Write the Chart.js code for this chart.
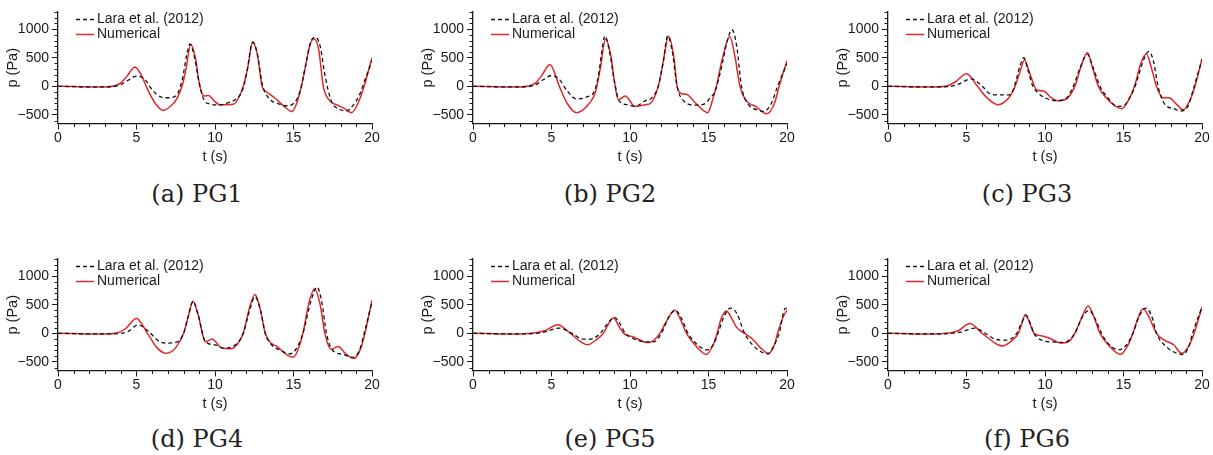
<!DOCTYPE html>
<html>
<head>
<meta charset="utf-8">
<script src="https://cdn.jsdelivr.net/npm/chart.js@4.4.1/dist/chart.umd.min.js"></script>
<style>
  body { margin: 0; background: #fff; width: 1213px; height: 455px; position: relative; overflow: hidden; }
  .panel { position: absolute; width: 385px; height: 170px; }
  .caption { position: absolute; font-family: "DejaVu Serif", serif; font-size: 24px; color: #222;
             transform: translate(-50%, -50%); white-space: nowrap; }
</style>
</head>
<body>
<div class="panel" style="left:0px;top:0px"><canvas id="pg1"></canvas></div>
<div class="panel" style="left:415px;top:0px"><canvas id="pg2"></canvas></div>
<div class="panel" style="left:830px;top:0px"><canvas id="pg3"></canvas></div>
<div class="panel" style="left:0px;top:247px"><canvas id="pg4"></canvas></div>
<div class="panel" style="left:415px;top:247px"><canvas id="pg5"></canvas></div>
<div class="panel" style="left:830px;top:247px"><canvas id="pg6"></canvas></div>

<div class="caption" style="left:197px;top:194px">(a) PG1</div>
<div class="caption" style="left:610px;top:194px">(b) PG2</div>
<div class="caption" style="left:1027px;top:194px">(c) PG3</div>
<div class="caption" style="left:197px;top:439px">(d) PG4</div>
<div class="caption" style="left:610px;top:439px">(e) PG5</div>
<div class="caption" style="left:1027px;top:439px">(f) PG6</div>

<script>
// axis ticks
const xTicks = [0, 5, 10, 15, 20];
const yTicks = [-500, 0, 500, 1000];
const seriesNames = ['Lara et al. (2012)', 'Numerical'];

// PG1
const pg1LaraT = [0, 1, 2, 3, 3.5, 4, 4.5, 5, 5.5, 6, 6.5, 7, 7.5, 7.9, 8.2, 8.4, 8.7, 9.0, 9.3, 9.7, 10.2, 10.8, 11.3, 11.7, 12.0, 12.4, 12.7, 13.0, 13.4, 14.0, 14.5, 15.0, 15.4, 15.8, 16.1, 16.4, 16.7, 17.0, 17.4, 18.0, 18.4, 18.8, 19.2, 19.6, 20];
const pg1LaraP = [0, -5, -10, -10, -5, 30, 110, 180, 130, -60, -180, -200, -170, 100, 550, 740, 500, 50, -240, -310, -330, -290, -230, -100, 200, 770, 560, 50, -200, -300, -340, -300, -100, 400, 780, 860, 700, 200, -250, -410, -430, -330, -150, 150, 450];
const pg1NumT = [0, 1, 2, 3, 3.6, 4.0, 4.4, 4.9, 5.3, 5.7, 6.2, 6.7, 7.2, 7.6, 7.9, 8.15, 8.45, 8.75, 9.0, 9.3, 9.6, 9.9, 10.3, 10.8, 11.2, 11.5, 11.8, 12.1, 12.4, 12.7, 13.0, 13.3, 13.8, 14.4, 14.9, 15.2, 15.5, 15.8, 16.0, 16.3, 16.6, 16.9, 17.3, 17.8, 18.2, 18.7, 19.1, 19.5, 20];
const pg1NumP = [0, -5, -10, -10, 10, 60, 180, 340, 200, -50, -300, -420, -340, -200, 0, 300, 730, 500, 50, -170, -160, -240, -320, -320, -310, -200, 0, 350, 780, 560, 0, -100, -200, -350, -440, -300, 0, 400, 680, 830, 650, 0, -250, -330, -380, -460, -300, 0, 500];

// PG2
const pg2LaraT = [0, 1, 2, 3, 3.5, 4, 4.5, 5, 5.5, 6, 6.6, 7.3, 7.7, 8.0, 8.2, 8.4, 8.7, 9.0, 9.3, 9.8, 10.3, 11.0, 11.4, 11.8, 12.1, 12.4, 12.7, 13.0, 13.4, 14.2, 14.8, 15.1, 15.4, 15.8, 16.2, 16.5, 16.8, 17.1, 17.5, 18.2, 18.5, 19.0, 19.4, 20];
const pg2LaraP = [0, -5, -10, -10, -5, 30, 120, 190, 120, -80, -220, -180, -100, 200, 600, 880, 600, 100, -250, -320, -350, -250, -200, 0, 400, 880, 600, 0, -250, -330, -300, -200, -100, 300, 800, 990, 700, 0, -300, -420, -440, -300, 0, 400];
const pg2NumT = [0, 1, 2, 3, 3.5, 4.0, 4.4, 4.9, 5.5, 6.0, 6.6, 7.4, 7.8, 8.1, 8.45, 8.8, 9.0, 9.25, 9.7, 10.3, 11.0, 11.3, 11.8, 12.1, 12.45, 12.8, 13.0, 13.3, 13.6, 14.2, 14.95, 15.3, 15.5, 15.9, 16.35, 16.7, 17.0, 17.4, 18.0, 18.7, 19.2, 19.5, 20];
const pg2NumP = [0, -5, -10, -10, 5, 60, 200, 380, 0, -300, -460, -300, -100, 300, 830, 500, 100, -230, -170, -350, -320, -300, 0, 400, 870, 500, 0, -130, -140, -300, -460, -200, 0, 500, 870, 500, 0, -250, -350, -480, -300, 0, 450];

// PG3
const pg3LaraT = [0, 1, 2, 3, 4, 4.5, 5.3, 6.0, 6.5, 7.0, 7.8, 8.1, 8.4, 8.65, 8.9, 9.2, 9.5, 10.0, 10.7, 11.3, 11.8, 12.2, 12.7, 13.1, 13.5, 14.0, 14.6, 15.0, 15.4, 15.8, 16.2, 16.6, 16.9, 17.2, 17.6, 18.3, 18.6, 19.1, 19.5, 20];
const pg3LaraP = [0, -5, -10, -10, 0, 40, 130, 0, -130, -150, -150, 50, 350, 500, 300, 20, -100, -200, -250, -220, 0, 300, 560, 300, 0, -200, -350, -340, -200, 50, 400, 610, 450, 0, -300, -400, -430, -350, 0, 470];
const pg3NumT = [0, 1, 2, 3, 3.8, 4.3, 5.0, 5.7, 6.3, 7.0, 7.7, 8.1, 8.4, 8.7, 9.0, 9.5, 9.9, 10.4, 10.8, 11.3, 11.9, 12.3, 12.7, 13.0, 13.4, 13.9, 14.5, 14.9, 15.3, 15.7, 16.1, 16.45, 16.8, 17.1, 17.5, 17.9, 18.4, 18.8, 19.3, 19.55, 20];
const pg3NumP = [0, -5, -10, -10, 10, 80, 220, 0, -200, -320, -200, 0, 250, 460, 250, -70, -80, -200, -250, -230, 0, 350, 590, 350, 0, -200, -350, -390, -250, 0, 400, 570, 300, 0, -200, -200, -320, -410, -200, 0, 480];

// PG4
const pg4LaraT = [0, 1, 2, 3, 4, 4.5, 5.1, 5.7, 6.5, 7.0, 7.6, 8.0, 8.3, 8.6, 8.9, 9.4, 10.0, 10.5, 11.2, 11.8, 12.2, 12.55, 12.9, 13.2, 13.6, 14.2, 14.7, 15.1, 15.6, 16.1, 16.5, 16.8, 17.1, 17.5, 18.2, 18.7, 19.2, 19.5, 20];
const pg4LaraP = [0, -5, -10, -10, 0, 40, 150, 50, -150, -170, -150, 0, 300, 560, 350, -150, -200, -260, -220, 0, 400, 640, 400, 0, -200, -300, -360, -300, 0, 550, 810, 550, 0, -300, -370, -420, -300, 0, 550];
const pg4NumT = [0, 1, 2, 3, 3.8, 4.3, 5.0, 5.7, 6.3, 6.9, 7.5, 8.0, 8.3, 8.6, 8.9, 9.4, 9.8, 10.4, 11.0, 11.4, 11.8, 12.2, 12.55, 12.9, 13.2, 13.6, 13.9, 14.6, 15.0, 15.4, 15.6, 16.0, 16.35, 16.7, 17.0, 17.4, 17.85, 18.3, 18.85, 19.3, 19.55, 20];
const pg4NumP = [0, -5, -10, -10, 10, 80, 260, 0, -250, -350, -250, 0, 300, 560, 350, -150, -100, -250, -270, -200, 0, 450, 680, 400, 0, -180, -220, -380, -420, -200, 0, 550, 780, 500, 0, -280, -230, -350, -440, -250, 0, 580];

// PG5
const pg5LaraT = [0, 1, 2, 3, 4, 4.5, 5.5, 6.3, 7.0, 7.5, 8.1, 8.6, 9.0, 9.4, 9.7, 10.3, 11.0, 11.5, 12.0, 12.5, 12.9, 13.3, 13.7, 14.3, 14.9, 15.3, 15.6, 16.0, 16.4, 16.8, 17.3, 17.8, 18.4, 18.8, 19.2, 19.5, 19.9, 20];
const pg5LaraP = [0, -5, -10, -10, 0, 20, 90, 0, -100, -100, 0, 180, 280, 150, 0, -100, -150, -150, 0, 300, 400, 250, 0, -200, -290, -200, 0, 300, 440, 350, 0, -200, -330, -360, -200, 0, 440, 430];
const pg5NumT = [0, 1, 2, 3, 4, 4.6, 5.4, 6.2, 7.3, 7.9, 8.3, 8.6, 8.95, 9.3, 9.6, 10.2, 10.9, 11.2, 11.6, 11.9, 12.4, 12.85, 13.2, 13.6, 14.3, 14.85, 15.3, 15.55, 15.8, 16.15, 16.5, 16.8, 17.3, 17.8, 18.3, 18.8, 19.2, 19.4, 19.7, 20];
const pg5NumP = [0, -5, -10, -10, 10, 50, 150, 0, -200, -100, 0, 150, 270, 120, 0, -60, -150, -160, -100, 0, 250, 410, 250, 0, -250, -370, -200, 0, 250, 390, 250, 100, 0, -100, -250, -350, -200, 0, 250, 410];

// PG6
const pg6LaraT = [0, 1, 2, 3, 4, 4.6, 5.5, 6.2, 6.8, 7.5, 8.2, 8.5, 8.8, 9.1, 9.3, 9.9, 10.5, 11.2, 11.9, 12.4, 12.8, 13.2, 13.6, 14.1, 14.7, 15.2, 15.6, 16.0, 16.4, 16.8, 17.1, 17.8, 18.4, 18.8, 19.2, 19.4, 20];
const pg6LaraP = [0, -5, -10, -10, 0, 20, 90, 0, -100, -120, 0, 180, 310, 150, 0, -130, -150, -160, 0, 300, 400, 250, 0, -200, -290, -200, 0, 300, 440, 300, 0, -250, -350, -370, -200, 0, 460];
const pg6NumT = [0, 1, 2, 3, 4, 4.5, 5.2, 6.0, 7.0, 7.3, 8.0, 8.3, 8.5, 8.75, 9.0, 9.3, 9.9, 10.4, 11.0, 11.5, 11.9, 12.3, 12.75, 13.1, 13.5, 14.2, 14.8, 15.3, 15.6, 15.9, 16.25, 16.6, 17.1, 17.6, 18.2, 18.7, 19.2, 19.5, 20];
const pg6NumP = [0, -5, -10, -10, 10, 50, 170, 0, -200, -220, -100, 0, 150, 330, 200, 0, -50, -100, -170, -150, 0, 250, 480, 300, 0, -250, -370, -200, 0, 250, 430, 300, 0, -120, -200, -350, -200, 0, 460];

const TICK_FONT = { family: 'Liberation Sans, Arial, sans-serif', size: 14 };
const TITLE_FONT = { family: 'Liberation Sans, Arial, sans-serif', size: 14.5 };
const INK = '#1a1a1a';

function zip(ts, ps) {
  return ts.map((t, i) => ({ x: t, y: ps[i] }));
}

// minor ticks + legend inside the plot
const decorPlugin = {
  id: 'decor',
  afterDraw(chart) {
    const ctx = chart.ctx;
    const area = chart.chartArea;
    const xs = chart.scales.x, ys = chart.scales.y;
    ctx.save();
    ctx.strokeStyle = INK;
    ctx.lineWidth = 1;
    ctx.beginPath();
    for (let v = Math.ceil(xs.min); v <= xs.max; v += 1) {
      if (xTicks.includes(v)) continue;
      const px = Math.round(xs.getPixelForValue(v)) + 0.5;
      ctx.moveTo(px, area.bottom);
      ctx.lineTo(px, area.bottom + 3.5);
    }
    for (let v = Math.ceil(ys.min / 100) * 100; v <= ys.max; v += 100) {
      if (yTicks.includes(v)) continue;
      const py = Math.round(ys.getPixelForValue(v)) + 0.5;
      ctx.moveTo(area.left, py);
      ctx.lineTo(area.left - 3.5, py);
    }
    ctx.stroke();

    // legend
    ctx.font = '14px Liberation Sans, Arial, sans-serif';
    ctx.textBaseline = 'middle';
    chart.data.datasets.forEach((ds, i) => {
      const y = area.top + 7.5 + i * 15;
      ctx.beginPath();
      ctx.strokeStyle = ds.borderColor;
      ctx.lineWidth = ds.borderWidth;
      ctx.setLineDash(ds.borderDash || []);
      ctx.moveTo(area.left + 18, y);
      ctx.lineTo(area.left + 36, y);
      ctx.stroke();
      ctx.setLineDash([]);
      ctx.fillStyle = INK;
      ctx.fillText(ds.label, area.left + 39, y);
    });
    ctx.restore();
  }
};

function drawGauge(id, laraT, laraP, numT, numP) {
  new Chart(document.getElementById(id), {
    type: 'line',
    data: {
      datasets: [
        {
          label: seriesNames[0],
          data: zip(laraT, laraP),
          borderColor: '#111',
          borderWidth: 1.3,
          borderDash: [4, 3],
          pointRadius: 0,
          cubicInterpolationMode: 'monotone'
        },
        {
          label: seriesNames[1],
          data: zip(numT, numP),
          borderColor: '#e3262c',
          borderWidth: 1.5,
          pointRadius: 0,
          cubicInterpolationMode: 'monotone'
        }
      ]
    },
    options: {
      responsive: false,
      animation: false,
      devicePixelRatio: 1,
      layout: { padding: { left: 2, right: 13, top: 12, bottom: 4 } },
      plugins: { legend: { display: false }, tooltip: { enabled: false } },
      scales: {
        x: {
          type: 'linear',
          min: 0, max: 20,
          afterBuildTicks: s => { s.ticks = xTicks.map(v => ({ value: v })); },
          afterFit: s => { s.height = 42.5; },
          grid: { drawOnChartArea: false, tickLength: 6, color: INK, tickWidth: 1 },
          border: { color: INK, width: 1.3 },
          ticks: { color: INK, font: TICK_FONT, padding: 0, maxRotation: 0 },
          title: { display: true, text: 't (s)', color: INK, font: TITLE_FONT, padding: { top: 0, bottom: 0 } }
        },
        y: {
          min: -650, max: 1300,
          afterBuildTicks: s => { s.ticks = yTicks.map(v => ({ value: v })); },
          afterFit: s => { s.width = 56; },
          grid: { drawOnChartArea: false, tickLength: 6, color: INK, tickWidth: 1 },
          border: { color: INK, width: 1.3 },
          ticks: {
            color: INK, font: TICK_FONT, padding: 3,
            callback: v => String(v).replace('-', '\u2212')
          },
          title: { display: true, text: 'p (Pa)', color: INK, font: TITLE_FONT, padding: { top: 2, bottom: 2 } }
        }
      }
    },
    plugins: [decorPlugin]
  });
}

[['pg1', pg1LaraT, pg1LaraP, pg1NumT, pg1NumP],
 ['pg2', pg2LaraT, pg2LaraP, pg2NumT, pg2NumP],
 ['pg3', pg3LaraT, pg3LaraP, pg3NumT, pg3NumP],
 ['pg4', pg4LaraT, pg4LaraP, pg4NumT, pg4NumP],
 ['pg5', pg5LaraT, pg5LaraP, pg5NumT, pg5NumP],
 ['pg6', pg6LaraT, pg6LaraP, pg6NumT, pg6NumP]].forEach(g => {
  const c = document.getElementById(g[0]);
  c.width = 385; c.height = 170;
  drawGauge(...g);
});
</script>
</body>
</html>
